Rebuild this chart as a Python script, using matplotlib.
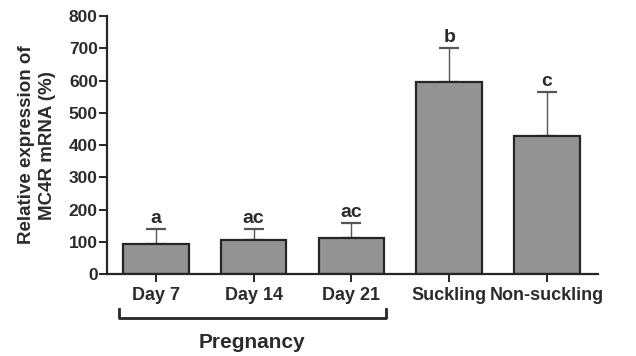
import matplotlib.pyplot as plt
import numpy as np

categories = ["Day 7", "Day 14", "Day 21", "Suckling", "Non-suckling"]
means = [93, 106, 113, 597, 428]
errors = [47, 33, 45, 105, 136]
letters = ["a", "ac", "ac", "b", "c"]
y_ticks = [0, 100, 200, 300, 400, 500, 600, 700, 800]
group_label = "Pregnancy"

plt.rcParams["font.family"] = ["Liberation Sans", "DejaVu Sans"]
plt.rcParams["font.weight"] = "bold"

text_color = "#2b2b2b"

fig = plt.figure(figsize=(6.36, 3.56), dpi=100)
ax = fig.add_axes([0.168, 0.230, 0.772, 0.725])

x = np.arange(len(categories))
ax.bar(x, means, width=0.67, color="#939393", edgecolor="#262626",
       linewidth=1.6, zorder=2)
ax.errorbar(x, means, yerr=[np.zeros(len(means)), errors], fmt="none",
            ecolor="#555555", elinewidth=1.0, capsize=7, capthick=1.6, zorder=1)

for xi, m, e, lab in zip(x, means, errors, letters):
    ax.text(xi, m + e + 6, lab, ha="center", va="bottom", fontsize=14,
            fontweight="bold", color=text_color)

ax.set_xlim(-0.5, 4.52)
ax.set_ylim(0, 800)
ax.set_yticks(y_ticks)
ax.set_xticks(x)
ax.set_xticklabels(categories, fontsize=13)

for s in ["top", "right"]:
    ax.spines[s].set_visible(False)
for s in ["left", "bottom"]:
    ax.spines[s].set_linewidth(1.6)
    ax.spines[s].set_color("#262626")

ax.tick_params(axis="both", length=5.5, width=1.4, color="#262626",
               labelcolor=text_color)
ax.tick_params(axis="y", pad=1, labelsize=12.5)
ax.tick_params(axis="x", pad=4)

ax.set_ylabel("Relative expression of\nMC4R mRNA (%)", fontsize=13.5,
              fontweight="bold", color=text_color, labelpad=9,
              linespacing=1.3)

# bracket under the pregnancy groups
trans = ax.get_xaxis_transform()
bx0, bx1 = -0.38, 2.35
by_top, by_bot = -0.136, -0.171
ax.plot([bx0, bx0, bx1, bx1], [by_top, by_bot, by_bot, by_top], color="#262626",
        linewidth=2.0, transform=trans, clip_on=False)
ax.text((bx0 + bx1) / 2, -0.264, group_label, transform=trans, ha="center",
        va="center", fontsize=15, fontweight="bold", color=text_color)

fig.savefig("out.png", dpi=100)
